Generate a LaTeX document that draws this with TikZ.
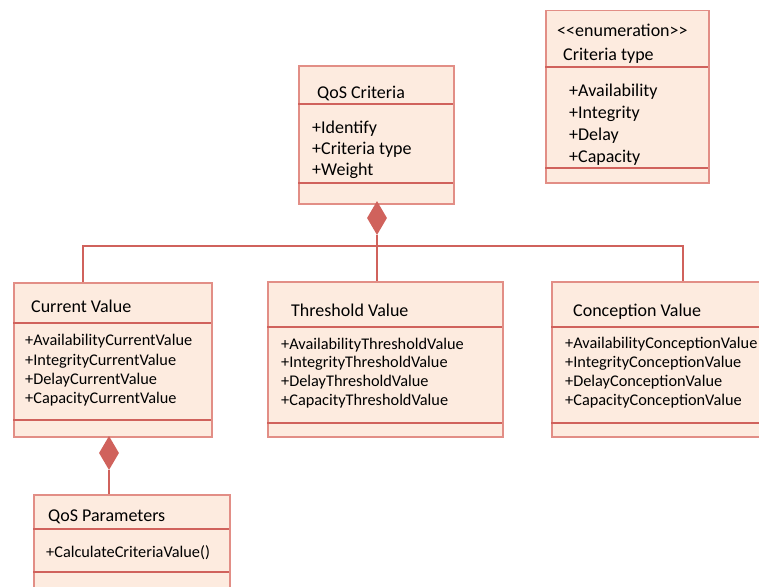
\documentclass[tikz,border=0pt]{standalone}
\usepackage{fontspec}
\usetikzlibrary{shapes.geometric}
\setmainfont{Carlito}
\definecolor{umlpeach}{RGB}{253,235,223}
\definecolor{umlrose}{RGB}{226,142,134}
\definecolor{umlred}{RGB}{208,98,92}
\tikzset{
  classbox/.style={draw=umlrose, fill=umlpeach, line width=1.5pt, inner sep=0pt, anchor=north west},
  divider/.style={draw=umlred, line width=2pt},
  link/.style={draw=umlred, line width=2pt},
  compo/.style={diamond, fill=umlred, inner sep=0pt, minimum width=20pt, minimum height=34pt},
  title/.style={anchor=base west, inner sep=0pt, font=\fontsize{18}{21.5}\selectfont},
  attr/.style={anchor=base west, inner sep=0pt, font=\fontsize{18}{21.5}\selectfont},
  smallattr/.style={anchor=base west, inner sep=0pt, font=\fontsize{16.3}{19}\selectfont},
}

\begin{document}
\begin{tikzpicture}[x=1pt, y=-1pt]
        \path[use as bounding box, clip] (0,0) rectangle (759,586);

        % draw the classes
        \node[classbox, minimum width=155pt, minimum height=138pt] (crit) at (298,65) {};
        \node[classbox, minimum width=163pt, minimum height=172pt] (enum) at (545,10) {};
        \node[classbox, minimum width=198pt, minimum height=154pt] (cur) at (13,282) {};
        \node[classbox, minimum width=235pt, minimum height=155pt] (thr) at (267,281) {};
        \node[classbox, minimum width=220pt, minimum height=155pt] (con) at (551,281) {};
        \node[classbox, minimum width=196pt, minimum height=110pt] (par) at (33,494) {};

        % compartments
        \draw[divider] (298,104) -- (453,104);
        \draw[divider] (298,183) -- (453,183);
        \draw[divider] (545,67) -- (708,67);
        \draw[divider] (545,168) -- (708,168);
        \draw[divider] (13,323) -- (211,323);
        \draw[divider] (13,420) -- (211,420);
        \draw[divider] (267,327) -- (502,327);
        \draw[divider] (267,423) -- (502,423);
        \draw[divider] (551,327) -- (771,327);
        \draw[divider] (551,423) -- (771,423);
        \draw[divider] (33,529) -- (229,529);
        \draw[divider] (33,572) -- (229,572);

        % names
        \node[title] (critT) at (317,98) {QoS Criteria};
        \node[title] (enumS) at (557,37) {{<}{<}enumeration{>}{>}};
        \node[title] (enumT) at (563,60) {Criteria type};
        \node[title] (curT) at (31,312) {Current Value};
        \node[title] (thrT) at (291,316) {Threshold Value};
        \node[title] (conT) at (573,316) {Conception Value};
        \node[title] (parT) at (48,521) {QoS Parameters};

        % QoS Criteria
        \foreach \t [count=\i] in {Identify, Criteria type, Weight}
            \node[attr] (critA\i) at (312,112+21*\i) {+\t};

        % Criteria type
        \foreach \t [count=\i] in {Availability, Integrity, Delay, Capacity}
            \node[attr] (enumA\i) at (569,74+22*\i) {+\t};

        % values
        \foreach \t [count=\i] in {Availability, Integrity, Delay, Capacity} {
            \node[smallattr] (curA\i) at (25,326.5+19.3*\i) {+\t CurrentValue};
            \node[smallattr] (thrA\i) at (281,330.5+18.7*\i) {+\t ThresholdValue};
            \node[smallattr] (conA\i) at (565,329+19*\i) {+\t ConceptionValue};
        }

        % QoS Parameters
        \node[smallattr] (parA1) at (46,557) {+CalculateCriteriaValue()};

        % composition
        \coordinate (bus) at (377,246);
        \coordinate (curtop) at (83,282);
        \coordinate (contop) at (683,281);
        \draw[link] (curtop) |- (bus) -| (contop);
        \node[compo] (critdia) at (377,218) {};
        \draw[link] (critdia.south) -- (critdia.south |- thr.north);
        \node[compo] (curdia) at (109,453) {};
        \draw[link] (curdia.south) -- (curdia.south |- par.north);

\end{tikzpicture}
\end{document}
